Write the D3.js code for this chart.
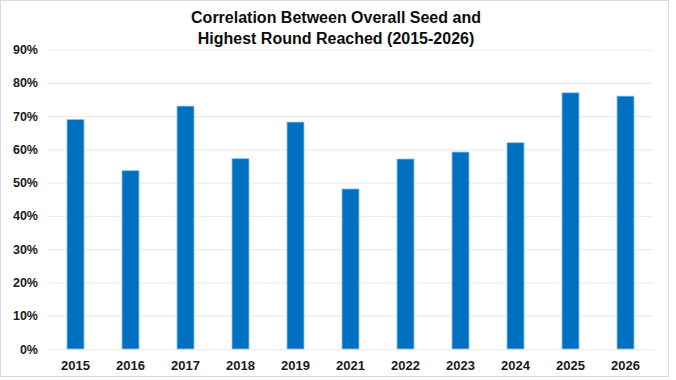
<!DOCTYPE html>
<html>
<head>
<meta charset="utf-8">
<script src="https://cdn.jsdelivr.net/npm/d3@7"></script>
<style>
  html, body { margin: 0; padding: 0; background: #ffffff; }
  svg { display: block; }
</style>
</head>
<body>
<svg id="chart" width="676" height="380"></svg>
<script>
const titleLines = ["Correlation Between Overall Seed and", "Highest Round Reached (2015-2026)"];
const years = ["2015", "2016", "2017", "2018", "2019", "2021", "2022", "2023", "2024", "2025", "2026"];
const correlation = [0.690, 0.536, 0.730, 0.572, 0.682, 0.481, 0.571, 0.592, 0.620, 0.770, 0.760];
const yTicks = [0, 0.1, 0.2, 0.3, 0.4, 0.5, 0.6, 0.7, 0.8, 0.9];

const svg = d3.select("#chart");
const W = 676, H = 380;
const margin = { top: 49.5, right: 23, bottom: 31, left: 48 };
const fontFam = "'Liberation Sans', Arial, sans-serif";

// outer chart border
svg.append("rect")
  .attr("x", 0.5).attr("y", 0.5)
  .attr("width", 668).attr("height", 376)
  .attr("fill", "#ffffff")
  .attr("stroke", "#d9d9d9")
  .attr("stroke-width", 1);

const x = d3.scaleBand()
  .domain(years)
  .range([margin.left, W - margin.right])
  .paddingInner(0.69)
  .paddingOuter(0.345);

const y = d3.scaleLinear()
  .domain([0, 0.9])
  .range([H - margin.bottom, margin.top]);

// gridlines
const grid = svg.append("g")
  .attr("transform", `translate(${margin.left},0)`)
  .call(d3.axisLeft(y).tickValues(yTicks).tickSize(-(W - margin.right - margin.left)).tickFormat(""));
grid.select(".domain").remove();
grid.selectAll("line").attr("stroke", "#ececec").attr("stroke-width", 1.2);

// y axis labels
const yAxis = svg.append("g")
  .attr("transform", `translate(${margin.left},0)`)
  .call(d3.axisLeft(y).tickValues(yTicks).tickSize(0).tickPadding(10).tickFormat(d3.format(".0%")));
yAxis.select(".domain").remove();
yAxis.selectAll("text")
  .attr("font-family", fontFam)
  .attr("font-size", 12.5)
  .attr("font-weight", "bold")
  .attr("fill", "#1a1a1a");

// bars
svg.append("g").selectAll("rect")
  .data(years.map((yr, i) => ({ yr, v: correlation[i] })))
  .join("rect")
  .attr("x", d => x(d.yr))
  .attr("y", d => y(d.v))
  .attr("width", x.bandwidth())
  .attr("height", d => y(0) - y(d.v))
  .attr("fill", "#0070C0")
  .attr("stroke", "#9cc9ee")
  .attr("stroke-width", 0.8);

// x axis labels
const xAxis = svg.append("g")
  .attr("transform", `translate(0,${H - margin.bottom})`)
  .call(d3.axisBottom(x).tickSize(0).tickPadding(12));
xAxis.select(".domain").remove();
xAxis.selectAll("text")
  .attr("font-family", fontFam)
  .attr("font-size", 13)
  .attr("font-weight", "bold")
  .attr("fill", "#1a1a1a");

// title
svg.append("text")
  .attr("x", 336)
  .attr("y", 23)
  .attr("text-anchor", "middle")
  .attr("font-family", fontFam)
  .attr("font-size", 16)
  .attr("font-weight", "bold")
  .attr("fill", "#0d0d0d")
  .selectAll("tspan")
  .data(titleLines)
  .join("tspan")
  .attr("x", 336)
  .attr("dy", (d, i) => i === 0 ? 0 : 21)
  .text(d => d);
</script>
</body>
</html>
